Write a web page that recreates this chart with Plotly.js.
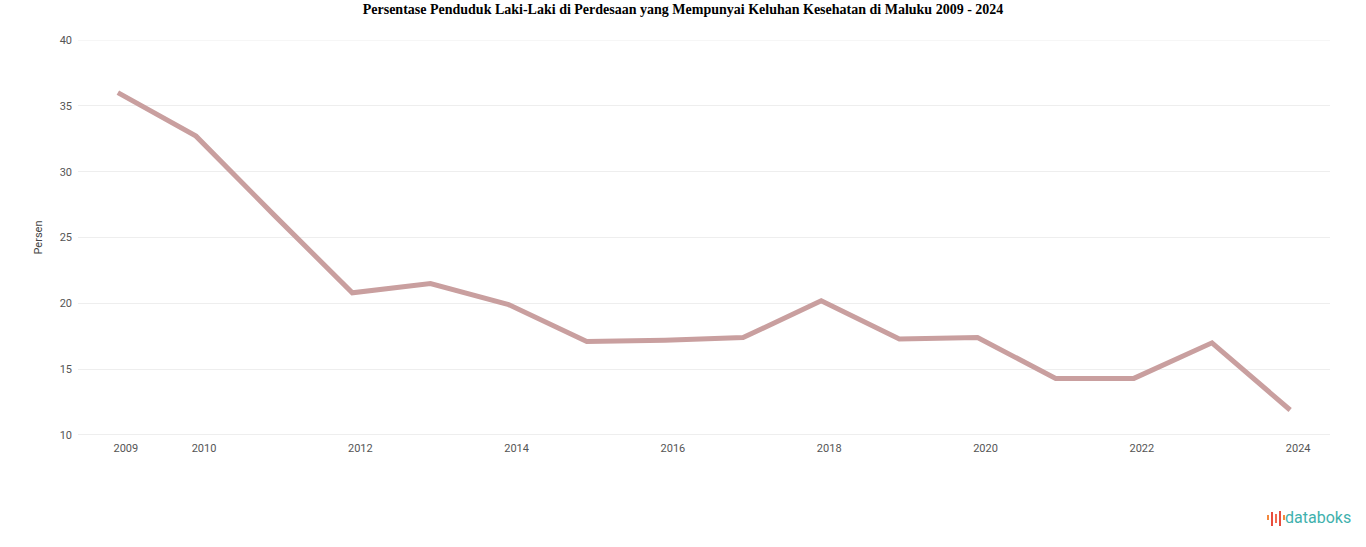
<!DOCTYPE html>
<html>
<head>
<meta charset="utf-8">
<script src="https://cdn.plot.ly/plotly-3.0.1.min.js"></script>
<style>html,body{margin:0;padding:0;background:#fff;}#chart{width:1366px;height:547px;}</style>
</head>
<body>
<div id="chart"></div>
<script>
const chartTitle = "Persentase Penduduk Laki-Laki di Perdesaan yang Mempunyai Keluhan Kesehatan di Maluku 2009 - 2024";
const years = [2009, 2010, 2011, 2012, 2013, 2014, 2015, 2016, 2017, 2018, 2019, 2020, 2021, 2022, 2023, 2024];
const values = [36.0, 32.7, 26.7, 20.8, 21.5, 19.9, 17.1, 17.2, 17.4, 20.2, 17.3, 17.4, 14.3, 14.3, 17.0, 11.9];
const xTickVals = [2009, 2010, 2012, 2014, 2016, 2018, 2020, 2022, 2024];
const xTickText = ["2009", "2010", "2012", "2014", "2016", "2018", "2020", "2022", "2024"];
const yTickVals = [10, 15, 20, 25, 30, 35, 40];
const yAxisTitle = "Persen";
const brand = "databoks";

const trace = {
  x: years, y: values, type: "scatter", mode: "lines",
  line: {color: "#c99f9f", width: 5},
  hoverinfo: "x+y"
};

const layout = {
  width: 1366, height: 547,
  margin: {l: 78, r: 36, t: 40, b: 112},
  paper_bgcolor: "#ffffff", plot_bgcolor: "#ffffff",
  showlegend: false,
  title: {text: "<b>" + chartTitle + "</b>", x: 0.5, xanchor: "center", y: 0.983, yanchor: "middle",
          font: {family: "Liberation Serif, Times New Roman, serif", size: 14, color: "#000"}},
  xaxis: {
    range: [2008.49, 2024.51], tickvals: xTickVals, ticktext: xTickText,
    showgrid: false, zeroline: false, showline: false, ticks: "",
    ticklabelshift: 8, ticklabelstandoff: 5,
    tickfont: {family: "Roboto, Arial, sans-serif", size: 11, color: "#555"}
  },
  yaxis: {
    range: [10, 40], tickvals: yTickVals, showgrid: true, gridcolor: "#eeeeee", gridwidth: 1,
    zeroline: false, showline: false, ticks: "", ticklabelstandoff: 5,
    tickfont: {family: "Roboto, Arial, sans-serif", size: 11, color: "#555"},
    title: {text: yAxisTitle, standoff: 14, font: {family: "Roboto, Arial, sans-serif", size: 11, color: "#444"}}
  },
  shapes: [
    {type: "line", xref: "paper", yref: "y", x0: 0, x1: 1, y0: 10, y1: 10, line: {color: "#dddddd", width: 1}},
    {type: "line", xref: "paper", yref: "y", x0: 0, x1: 1, y0: 40, y1: 40, line: {color: "#eeeeee", width: 1}}
  ],
  annotations: [
    {xref: "paper", yref: "paper", x: 1.018, y: -0.21, xanchor: "right", yanchor: "middle", showarrow: false,
     text: brand, font: {family: "Roboto, Arial, sans-serif", size: 16, color: "#3fb1ad"}}
  ]
};

// small logo bars (decorative, pixel-positioned in paper coords)
const plotW = 1366 - 78 - 36, plotH = 547 - 40 - 112;
function px(xp){ return (xp - 78) / plotW; }
function py(yp){ return (547 - 112 - yp) / plotH; }
const logoBars = [[1268, 515, 520], [1272, 512, 526], [1276, 514, 523], [1280, 511, 526], [1284, 515, 520]];
const logoColors = ["#f3883d", "#e84c3d", "#f26b4f", "#e84c3d", "#f3883d"];
logoBars.forEach((b, i) => {
  layout.shapes.push({type: "line", xref: "paper", yref: "paper", x0: px(b[0]), x1: px(b[0]), y0: py(b[1]), y1: py(b[2]),
    line: {color: logoColors[i], width: 2}});
});

Plotly.newPlot("chart", [trace], layout, {displayModeBar: false, staticPlot: true});
</script>
</body>
</html>
